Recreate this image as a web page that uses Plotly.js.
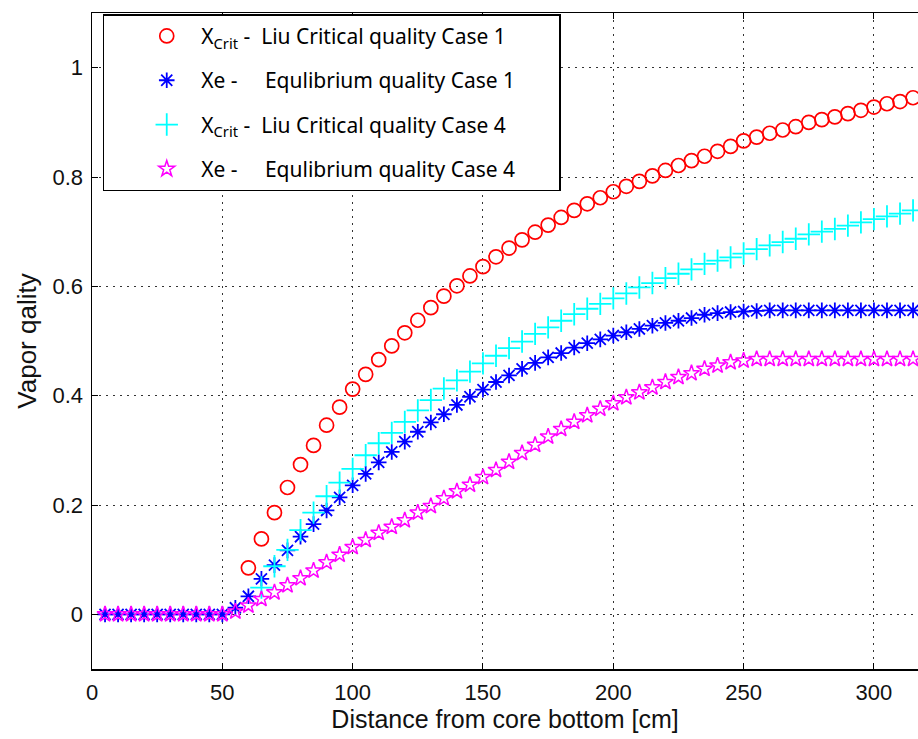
<!DOCTYPE html>
<html><head><meta charset="utf-8">
<script src="https://cdn.plot.ly/plotly-3.0.1.min.js"></script>
<style>html,body{margin:0;padding:0;background:#fff;overflow:hidden}#chart{width:918px;height:739px}</style>
</head><body><div id="chart"></div>
<script>
// Distance from core bottom [cm]
const distance = [5,10,15,20,25,30,35,40,45,50,55,60,65,70,75,80,85,90,95,100,
  105,110,115,120,125,130,135,140,145,150,155,160,165,170,175,180,185,190,195,200,
  205,210,215,220,225,230,235,240,245,250,255,260,265,270,275,280,285,290,295,300,
  305,310,315];

// X_Crit - Liu critical quality, Case 1
const xcritCase1 = [null,null,null,null,null,null,null,null,null,null,null,
  0.085,0.138,0.186,0.232,0.274,0.309,0.346,0.379,0.412,
  0.439,0.466,0.491,0.515,0.538,0.561,0.582,0.601,0.619,0.636,
  0.654,0.670,0.685,0.699,0.712,0.726,0.739,0.751,0.762,0.773,
  0.783,0.792,0.802,0.812,0.821,0.830,0.838,0.847,0.856,0.866,
  0.873,0.880,0.886,0.892,0.900,0.905,0.910,0.916,0.922,0.928,
  0.934,0.938,0.945];

// Xe - equilibrium quality, Case 1
const xeCase1 = [0,0,0,0,0,0,0,0,0,0,
  0.012,0.033,0.065,0.090,0.117,0.142,0.165,0.190,0.214,0.236,
  0.257,0.278,0.297,0.316,0.334,0.351,0.366,0.383,0.398,0.411,
  0.425,0.437,0.449,0.460,0.470,0.478,0.488,0.496,0.503,0.510,
  0.516,0.522,0.528,0.533,0.537,0.542,0.548,0.551,0.553,0.554,
  0.555,0.556,0.556,0.556,0.556,0.556,0.556,0.556,0.556,0.556,
  0.556,0.556,0.556];

// X_Crit - Liu critical quality, Case 4
const xcritCase4 = [null,null,null,null,null,null,null,null,null,null,null,null,
  0.049,0.088,0.118,0.154,0.186,0.216,0.241,0.266,
  0.291,0.313,0.332,0.352,0.373,0.392,0.413,0.428,0.444,0.459,
  0.473,0.487,0.499,0.513,0.525,0.537,0.549,0.559,0.568,0.578,
  0.587,0.598,0.606,0.615,0.623,0.631,0.641,0.647,0.653,0.660,
  0.668,0.675,0.681,0.687,0.695,0.700,0.705,0.711,0.717,0.723,
  0.728,0.733,0.739];

// Xe - equilibrium quality, Case 4
const xeCase4 = [0,0,0,0,0,0,0,0,0,0,
  0.005,0.016,0.028,0.040,0.053,0.066,0.080,0.095,0.109,0.123,
  0.136,0.149,0.160,0.172,0.186,0.198,0.212,0.225,0.237,0.251,
  0.264,0.279,0.295,0.310,0.325,0.339,0.352,0.364,0.376,0.386,
  0.397,0.406,0.415,0.425,0.434,0.441,0.449,0.455,0.461,0.464,
  0.467,0.467,0.467,0.467,0.467,0.467,0.467,0.467,0.467,0.467,
  0.467,0.467,0.467];

const pad = '\u00a0\u00a0\u00a0\u00a0\u00a0\u00a0\u00a0';
const seriesNames = [
  'X<sub>Crit</sub> -\u00a0 Liu Critical quality Case 1' + pad,
  'Xe -\u00a0\u00a0\u00a0\u00a0 Equlibrium quality Case 1' + pad,
  'X<sub>Crit</sub> -\u00a0 Liu Critical quality Case 4' + pad,
  'Xe -\u00a0\u00a0\u00a0\u00a0 Equlibrium quality Case 4' + pad
];

const xTicks = [0,50,100,150,200,250,300];
const yTicks = [0,0.2,0.4,0.6,0.8,1];
const yTickText = ['0','0.2','0.4','0.6','0.8','1'];

const traces = [
  {x: distance, y: xcritCase1, name: seriesNames[0], legendgroup:'a', mode:'markers', type:'scatter',
   marker:{symbol:'circle-open', size:14, color:'#ff0000', line:{width:1.7, color:'#ff0000'}}},
  {x: distance, y: xeCase1, name: seriesNames[1], legendgroup:'b', mode:'markers', type:'scatter',
   marker:{symbol:'asterisk-open', size:13, color:'#0000ff', line:{width:1.8, color:'#0000ff'}}},
  {x: distance, y: xcritCase4, name: seriesNames[2], legendgroup:'c', mode:'markers', type:'scatter',
   marker:{symbol:'cross-thin-open', size:16, color:'#00ffff', line:{width:1.8, color:'#00ffff'}}},
  {x: distance, y: xeCase4, name: seriesNames[3], legendgroup:'d', mode:'markers', type:'scatter',
   marker:{symbol:'star-open', size:12, color:'#ff00ff', line:{width:1.5, color:'#ff00ff'}}}
];

const axisFont = {family:'Liberation Sans, Arial, sans-serif', size:22, color:'#111'};
const titleFont = {family:'Liberation Sans, Arial, sans-serif', size:25, color:'#111'};

const layout = {
  width: 918, height: 739,
  margin: {l: 92, r: 0, t: 13, b: 70},
  paper_bgcolor: '#ffffff', plot_bgcolor: '#ffffff',
  showlegend: true,
  legend: {
    x: 0.013, y: 0.998, xanchor: 'left', yanchor: 'top',
    bgcolor: '#ffffff', bordercolor: '#000', borderwidth: 1.5,
    font: {family: 'Noto Sans, DejaVu Sans, sans-serif', size: 21, color: '#000'},
    itemwidth: 59, indentation: 28, tracegroupgap: 14, traceorder: 'grouped'
  },
  xaxis: {
    range: [0, 316.9], tickvals: xTicks, ticks: 'inside', ticklen: 6, tickwidth: 1, tickcolor: '#000',
    showline: true, linecolor: '#000', linewidth: 1.5, mirror: 'allticks',
    showgrid: true, gridcolor: '#333', gridwidth: 1, griddash: '2px,5px', zeroline: false,
    tickfont: axisFont, ticklabelstandoff: 3,
    title: {text: 'Distance from core bottom [cm]', font: titleFont, standoff: 6}
  },
  yaxis: {
    range: [-0.1, 1.1], tickvals: yTicks, ticktext: yTickText, ticks: 'inside', ticklen: 6, tickwidth: 1, tickcolor: '#000',
    showline: true, linecolor: '#000', linewidth: 1.5, mirror: false,
    showgrid: true, gridcolor: '#333', gridwidth: 1, griddash: '2px,5px', zeroline: false,
    tickfont: axisFont, ticklabelstandoff: 3,
    title: {text: 'Vapor qality', font: {family:'Liberation Sans, Arial, sans-serif', size: 26, color:'#111'}, standoff: 8}
  }
};

Plotly.newPlot('chart', traces, layout, {displayModeBar: false, staticPlot: true});
</script>
</body></html>
